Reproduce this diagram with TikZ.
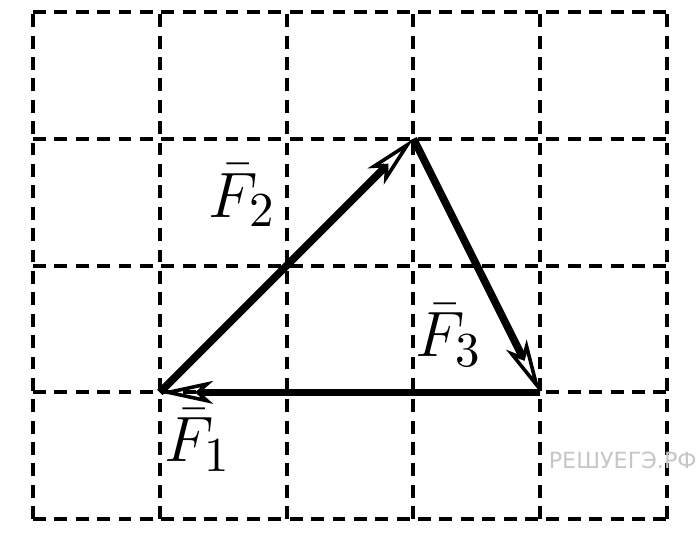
\documentclass[tikz,border=0pt]{standalone}
\usepackage{amsmath, amssymb}
\usepackage{fontspec}
\newfontfamily\wmfont{DejaVu Sans}
\usetikzlibrary{arrows.meta}

\tikzset{
    gridline/.style={line width=0.9pt, dash pattern=on 2.9pt off 1.9pt},
    force/.style={line width=1.7pt, -{Stealth[open, length=4.2mm, width=1.8mm, inset=1mm, line width=0.8pt]}},
    flabel/.style={font=\fontsize{15}{17}\selectfont}
}

\begin{document}
\begin{tikzpicture}
    \useasboundingbox (-0.26,-0.235) rectangle (5.236,4.094);

    % Draw the dashed grid
    \foreach \x in {0,...,5} {
        \draw[gridline] (\x,0) -- (\x,4);
    }
    \foreach \y in {0,...,4} {
        \draw[gridline] (0,\y) -- (5,\y);
    }

    % Corners of the force triangle
    \coordinate (A) at (1,1);
    \coordinate (B) at (3,3);
    \coordinate (C) at (4,1);

    % The forces
    \draw[force] (C) -- (A);
    \draw[force] (A) -- (B);
    \draw[force] (B) -- (C);

    % Labels
    \node[flabel] (f1) at (1.3,0.62) {$\bar{F}_1$};
    \node[flabel] (f2) at (1.65,2.55) {$\bar{F}_2$};
    \node[flabel] (f3) at (3.28,1.45) {$\bar{F}_3$};

    % Watermark
    \node[anchor=west, inner sep=0pt, text=gray!45, font=\wmfont\fontsize{5}{6}\selectfont] (wm) at (4.06,0.46) {РЕШУЕГЭ.РФ};
\end{tikzpicture}
\end{document}
